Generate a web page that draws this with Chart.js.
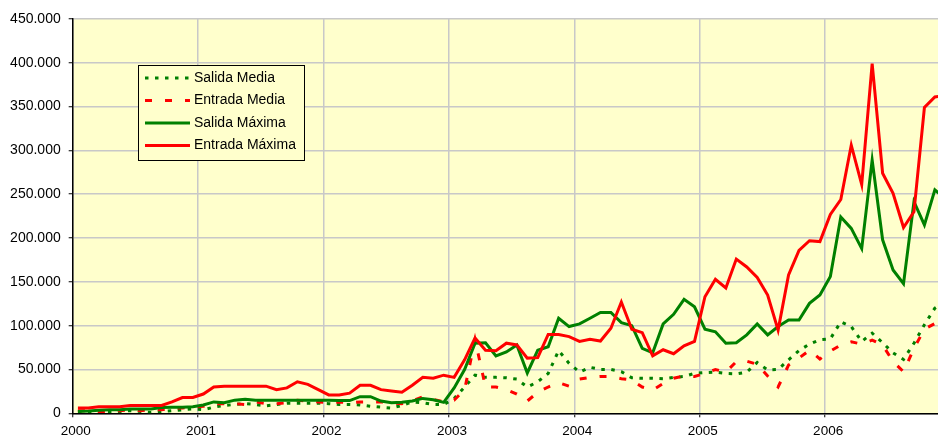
<!DOCTYPE html>
<html>
<head>
    <meta charset="UTF-8">
    <title>Salida / Entrada</title>
    <script src="https://cdn.jsdelivr.net/npm/chart.js@4.4.0/dist/chart.umd.min.js"></script>
    <style type="text/css">
        body { margin: 0; background: #fff; overflow: hidden; }
        #wrap { width: 938px; height: 439px; }
    </style>
</head>
<body>
<div id="wrap">
    <canvas id="flowChart" width="938" height="439"></canvas>
</div>

<script>
    // year labels on the x axis, one tick every 12 months
    const yearLabels = ['2000', '2001', '2002', '2003', '2004', '2005', '2006'];

    // monthly values, Jan 2000 .. Dec 2006
    const salidaMedia = [
        2000, 2000, 2000, 2000, 2000, 3000, 2000, 1000, 2000, 3000, 4000, 5000,
        4000, 7000, 9000, 10000, 11000, 10000, 8500, 10000, 11500, 11500, 11500, 11500,
        11000, 10000, 10000, 9500, 8000, 7000, 6000, 9000, 13000, 12000, 10000, 10000,
        17000, 30000, 43500, 41000, 41000, 40500, 39000, 30000, 36000, 45500, 71500, 57000,
        47000, 52500, 50000, 50000, 47500, 40500, 40000, 40000, 39500, 41000, 42000, 45500,
        46500, 47000, 45500, 45000, 47000, 58000, 49500, 50000, 61000, 71500, 79000, 84000,
        85000, 104500, 99000, 82000, 91500, 80500, 69000, 61500, 80000, 101000, 120000, 128000
    ];
    const entradaMedia = [
        3000, 3000, 2000, 2000, 3000, 4000, 3000, 4000, 4000, 6000, 6000, 7000,
        8000, 11000, 11000, 11000, 10000, 13000, 11000, 11000, 12000, 15000, 14000, 13000,
        12000, 13000, 12000, 13000, 13000, 13000, 12000, 11000, 14000, 19000, 16000, 13000,
        15000, 27000, 84000, 30000, 30000, 27000, 22000, 14000, 24000, 30000, 35000, 31000,
        39000, 41000, 42000, 42000, 39500, 38000, 30000, 26500, 34000, 40000, 42500, 42000,
        45500, 50000, 47000, 59000, 59500, 56000, 42500, 30000, 55000, 63000, 72000, 62000,
        71000, 78000, 81500, 79000, 83500, 78000, 59000, 47500, 74000, 96000, 102500, 96000
    ];
    const salidaMaxima = [
        2000, 2500, 3500, 4000, 4000, 5000, 5000, 5000, 6500, 7000, 7000, 7500,
        9500, 13000, 12000, 15000, 16000, 15000, 15000, 15000, 15000, 15000, 15000, 15000,
        15000, 14500, 14500, 19000, 19000, 14000, 12000, 12500, 14000, 17000, 15500, 12500,
        29000, 50000, 80000, 80500, 65500, 70000, 78000, 46000, 72000, 76000, 108500, 99000,
        102000, 108500, 115000, 115000, 103500, 100000, 74000, 69000, 102000, 113000, 130000, 121500,
        96000, 93000, 80000, 80500, 89500, 102000, 89500, 99000, 106500, 106500, 125500, 135000,
        156000, 224000, 211000, 188000, 289000, 198000, 163500, 148000, 241500, 215000, 255000, 245000
    ];
    const entradaMaxima = [
        6000, 6000, 7500, 7500, 7500, 9000, 9000, 9000, 9000, 13000, 18000, 18000,
        22000, 30000, 31000, 31000, 31000, 31000, 31000, 27000, 29000, 36000, 33000, 27000,
        21000, 21000, 23000, 32000, 32000, 27000, 25500, 24000, 32000, 41000, 40000, 43500,
        41000, 61000, 86000, 72000, 71500, 80000, 78000, 63000, 63500, 90000, 90000, 87500,
        82000, 84500, 82500, 97000, 127000, 96000, 92000, 65500, 72500, 68000, 77000, 82000,
        133000, 153000, 143000, 176000, 167000, 155000, 135000, 95000, 158000, 186000, 197000, 196000,
        227000, 244000, 306000, 261000, 399000, 274000, 251000, 212000, 230000, 349000, 361000, 363000
    ];

    const FONT = "'Liberation Sans', Arial, sans-serif";

    // each value sits in the middle of its month
    function toPoints(values) {
        return values.map(function (v, i) { return { x: i + 0.5, y: v }; });
    }

    function miles(v) {
        return String(v).replace(/\B(?=(\d{3})+(?!\d))/g, '.');
    }

    // pale yellow plot area
    const plotBackground = {
        id: 'plotBackground',
        beforeDraw(chart) {
            const a = chart.chartArea;
            const ctx = chart.ctx;
            ctx.save();
            ctx.fillStyle = '#FFFFCC';
            ctx.fillRect(a.left, a.top, a.right - a.left, a.bottom - a.top);
            ctx.restore();
        }
    };

    // boxed legend inside the plot, like the original
    const boxLegend = {
        id: 'boxLegend',
        afterDraw(chart) {
            const ctx = chart.ctx;
            const x = 138.5, y = 65.5, w = 166, h = 95;
            ctx.save();
            ctx.fillStyle = '#FFFFCC';
            ctx.fillRect(x, y, w, h);
            ctx.strokeStyle = '#000';
            ctx.lineWidth = 1;
            ctx.strokeRect(x, y, w, h);
            ctx.font = '14px ' + FONT;
            ctx.textBaseline = 'middle';
            ctx.fillStyle = '#000';
            chart.data.datasets.forEach(function (ds, k) {
                const ly = 78 + k * 22.5;
                ctx.beginPath();
                ctx.setLineDash(ds.borderDash || []);
                ctx.strokeStyle = ds.borderColor;
                ctx.lineWidth = ds.borderWidth;
                ctx.moveTo(145, ly);
                ctx.lineTo(190, ly);
                ctx.stroke();
                ctx.setLineDash([]);
                ctx.fillText(ds.label, 194, ly);
            });
            ctx.restore();
        }
    };

    const ctx = document.getElementById('flowChart').getContext('2d');
    new Chart(ctx, {
        type: 'line',
        data: {
            datasets: [{
                label: 'Salida Media',
                data: toPoints(salidaMedia),
                borderColor: '#008000',
                borderWidth: 3,
                borderDash: [3.5, 6.5],
                order: 3
            }, {
                label: 'Entrada Media',
                data: toPoints(entradaMedia),
                borderColor: '#FF0000',
                borderWidth: 3,
                borderDash: [7, 13],
                order: 2
            }, {
                label: 'Salida Máxima',
                data: toPoints(salidaMaxima),
                borderColor: '#008000',
                borderWidth: 3,
                order: 1
            }, {
                label: 'Entrada Máxima',
                data: toPoints(entradaMaxima),
                borderColor: '#FF0000',
                borderWidth: 3,
                order: 0
            }]
        },
        options: {
            responsive: false,
            animation: false,
            layout: { padding: { top: 19, right: 0, bottom: 0, left: 0 } },
            elements: {
                point: { radius: 0 },
                line: { tension: 0, borderCapStyle: 'butt' }
            },
            plugins: {
                legend: { display: false },
                tooltip: { enabled: false }
            },
            scales: {
                x: {
                    type: 'linear',
                    min: 0,
                    max: 82.8,
                    afterFit: function (scale) { scale.height = 25.7; },
                    afterBuildTicks: function (scale) {
                        scale.ticks = yearLabels.map(function (_, k) { return { value: k * 12 }; });
                    },
                    ticks: {
                        callback: function (value, index) { return yearLabels[index]; },
                        font: { family: FONT, size: 13.5 },
                        color: '#000',
                        padding: 6,
                        labelOffset: 3,
                        maxRotation: 0
                    },
                    grid: {
                        color: '#C8C8C8',
                        lineWidth: 1.5,
                        tickColor: '#000',
                        tickLength: 4,
                        tickWidth: 1
                    },
                    border: { color: '#000', width: 1.5 }
                },
                y: {
                    min: 0,
                    max: 450000,
                    afterFit: function (scale) { scale.width = 72.7; },
                    ticks: {
                        stepSize: 50000,
                        callback: function (value) { return miles(value); },
                        font: { family: FONT, size: 14 },
                        color: '#000',
                        padding: 8
                    },
                    grid: {
                        color: '#C8C8C8',
                        lineWidth: 1.5,
                        tickColor: '#000',
                        tickLength: 4,
                        tickWidth: 1
                    },
                    border: { color: '#000', width: 1.5 }
                }
            }
        },
        plugins: [plotBackground, boxLegend]
    });
</script>
</body>
</html>
